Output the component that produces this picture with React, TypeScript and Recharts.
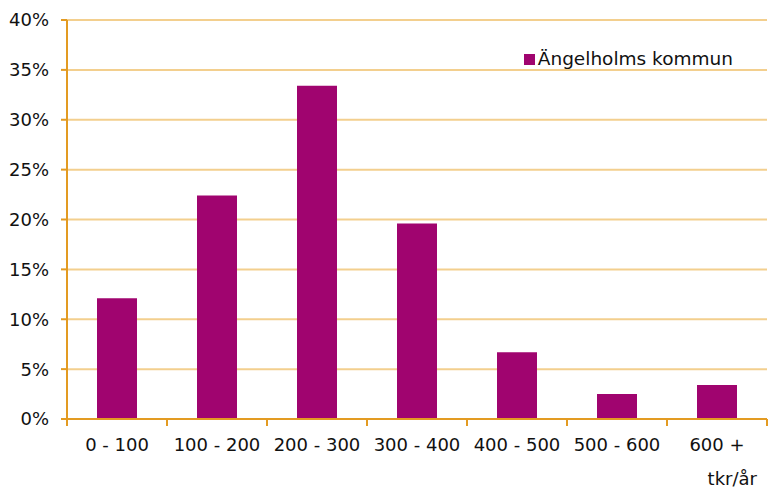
import React from "react";
import { BarChart, Bar, XAxis, YAxis, CartesianGrid, Legend } from "recharts";

const categories = ["0 - 100", "100 - 200", "200 - 300", "300 - 400", "400 - 500", "500 - 600", "600 +"];
const shares = [12.1, 22.4, 33.4, 19.6, 6.7, 2.5, 3.4];
const yTicks = [0, 5, 10, 15, 20, 25, 30, 35, 40];
const seriesName = "Ängelholms kommun";
const unitLabel = "tkr/år";

const data = categories.map((c, i) => ({ cat: c, value: shares[i] }));

const FONT = "'DejaVu Sans', sans-serif";
const AXIS = "#E39B22";
const GRID = "#F3CF8E";
const BAR = "#A0046F";

function XTick(props: any) {
  const { x, y, payload, index, visibleTicksCount, width } = props;
  const band = width / visibleTicksCount;
  const left = x - band / 2;
  return (
    <g>
      <line x1={left} x2={left} y1={y - 8} y2={y - 1} stroke={AXIS} strokeWidth={2} />
      {index === visibleTicksCount - 1 && (
        <line x1={left + band} x2={left + band} y1={y - 8} y2={y - 1} stroke={AXIS} strokeWidth={2} />
      )}
      <text x={x} y={y + 24} textAnchor="middle" fontFamily={FONT} fontSize={18} fill="#111">
        {payload.value}
      </text>
    </g>
  );
}

function LegendBox() {
  return (
    <div style={{ display: "flex", alignItems: "center", fontFamily: FONT, fontSize: 18.5, lineHeight: "20px", color: "#111" }}>
      <span style={{ display: "inline-block", width: 11, height: 11, background: BAR, marginRight: 3 }} />
      {seriesName}
    </div>
  );
}

export default function App() {
  return (
    <div style={{ position: "absolute", left: 0, top: 0, width: 771, height: 491, background: "#fff" }}>
      <BarChart
        width={771}
        height={491}
        data={data}
        margin={{ top: 0, right: 4, left: 0, bottom: 0 }}
        barCategoryGap="30%"
      >
        <CartesianGrid vertical={false} stroke={GRID} strokeWidth={2} />
        <XAxis
          dataKey="cat"
          height={72}
          axisLine={{ stroke: AXIS, strokeWidth: 2 }}
          tickLine={false}
          interval={0}
          tick={<XTick />}
          label={{
            content: (p: any) => {
              const vb = p.viewBox;
              return (
                <text x={vb.x + vb.width - 10} y={vb.y + 66} textAnchor="end" fontFamily={FONT} fontSize={18} fill="#111">
                  {unitLabel}
                </text>
              );
            },
          }}
        />
        <YAxis
          width={67}
          domain={[0, 40]}
          ticks={yTicks}
          tickFormatter={(v: number) => `${v}%`}
          axisLine={{ stroke: AXIS, strokeWidth: 2 }}
          tickLine={{ stroke: AXIS, strokeWidth: 2 }}
          tickSize={6}
          tickMargin={12}
          tick={{ fontFamily: FONT, fontSize: 18, fill: "#111" }}
        />
        <Legend
          verticalAlign="top"
          align="right"
          content={<LegendBox />}
          wrapperStyle={{ top: 49, right: 38, left: "auto", width: "auto" }}
        />
        <Bar dataKey="value" name={seriesName} fill={BAR} isAnimationActive={false} />
      </BarChart>
    </div>
  );
}
